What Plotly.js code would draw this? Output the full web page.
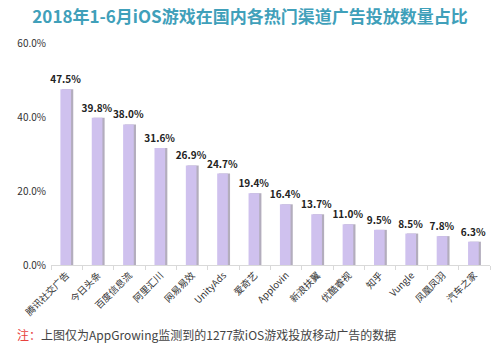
<!DOCTYPE html>
<html>
<head>
<meta charset="utf-8">
<script src="https://cdn.plot.ly/plotly-3.0.1.min.js"></script>
<style>
html,body{margin:0;padding:0;background:#fff;}
#chart{width:500px;height:353px;}
</style>
</head>
<body>
<div id="chart"></div>
<script>
const categories = ["腾讯社交广告","今日头条","百度信息流","阿里汇川","网易易效","UnityAds","爱奇艺","Applovin","新浪扶翼","优酷睿视","知乎","Vungle","凤凰凤羽","汽车之家"];
const values = [47.5, 39.8, 38.0, 31.6, 26.9, 24.7, 19.4, 16.4, 13.7, 11.0, 9.5, 8.5, 7.8, 6.3];
const yTickVals = [0, 20, 40, 60];
const yTickText = ["0.0%","20.0%","40.0%","60.0%"];
const labels = values.map(v => v.toFixed(1) + "%");

const font = "'Noto Sans CJK SC', 'Microsoft YaHei', sans-serif";

const shadow = {
  type: "bar", x: categories, y: values,
  width: 0.36, offset: -0.15,
  marker: {color: "#b3adbd", line: {width: 0}},
  hoverinfo: "skip", showlegend: false
};
const main = {
  type: "bar", x: categories, y: values,
  width: 0.34, offset: -0.2,
  marker: {color: "#cfc1ee", line: {width: 0}},
  text: labels, textposition: "outside", cliponaxis: false, constraintext: "none",
  textfont: {family: font, size: 10, color: "#222", weight: 700},
  showlegend: false
};

const layout = {
  width: 500, height: 353,
  margin: {l: 51, r: 10, t: 43, b: 88},
  paper_bgcolor: "#fff", plot_bgcolor: "#fff",
  barmode: "overlay",
  title: {text: "<b>2018年1-6月iOS游戏在国内各热门渠道广告投放数量占比</b>",
          font: {family: font, size: 17, color: "#40a0ba"},
          x: 0.5, xanchor: "center", y: 0.952, yanchor: "middle"},
  xaxis: {
    type: "category", tickangle: -45,
    tickfont: {family: font, size: 9.5, color: "#333"},
    showline: true, linecolor: "#d9d9d9", linewidth: 1,
    ticks: "outside", ticklen: 4, tickcolor: "#d9d9d9",
    tickson: "boundaries", showgrid: false
  },
  yaxis: {
    range: [0, 60], tickvals: yTickVals, ticktext: yTickText,
    tickfont: {family: font, size: 10, color: "#333"},
    showgrid: false, zeroline: false, showline: false,
    ticks: "", ticklabelstandoff: 4
  },
  annotations: [{
    xref: "paper", yref: "paper", x: -0.083, y: -0.315, xanchor: "left", yanchor: "middle",
    showarrow: false, align: "left",
    text: "<span style='color:#e8423e'>注：</span>上图仅为AppGrowing监测到的1277款iOS游戏投放移动广告的数据",
    font: {family: font, size: 12, color: "#444"}
  }]
};

Plotly.newPlot("chart", [shadow, main], layout, {displayModeBar: false, staticPlot: true});
</script>
</body>
</html>
